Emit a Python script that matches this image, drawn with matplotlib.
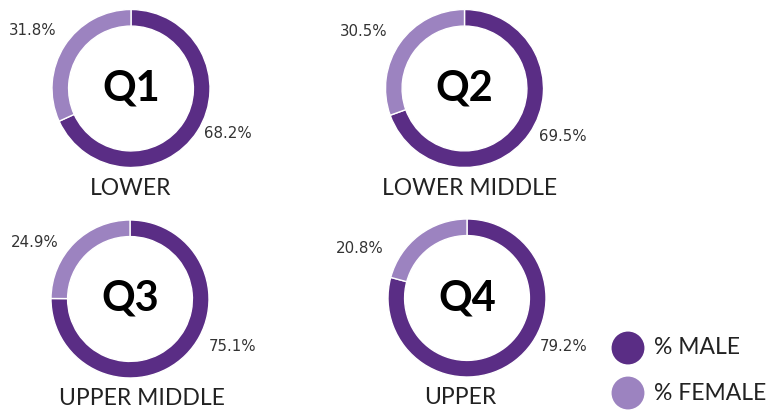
import matplotlib
matplotlib.use("Agg")
import matplotlib.pyplot as plt

# Data
quartiles = ["Q1", "Q2", "Q3", "Q4"]
bands = ["LOWER", "LOWER MIDDLE", "UPPER MIDDLE", "UPPER"]
male = [68.2, 69.5, 75.1, 79.2]
female = [31.8, 30.5, 24.9, 20.8]
legend_labels = ["% MALE", "% FEMALE"]

dark = "#5a2d85"
light = "#9c83c0"
text_col = "#333333"

W, H = 773, 412
fig = plt.figure(figsize=(W / 100, H / 100), dpi=100)
plt.rcParams["font.family"] = ["Lato", "DejaVu Sans"]

# donut centres and radius in pixels (top-left origin)
centres = [(131, 88.5), (464.5, 88.5), (130, 299), (467, 298)]
r = 79
span = 1.5
# label offsets in radius units (male, female), title x shift
male_off = [(1.22, -0.57), (1.24, -0.61), (1.30, -0.60), (1.22, -0.62)]
fem_off = [(-1.24, 0.74), (-1.28, 0.72), (-1.20, 0.72), (-1.36, 0.63)]
title_dx = [0.0, 0.07, 0.15, -0.09]

for i, (cx, cy) in enumerate(centres):
    half = r * span
    ax = fig.add_axes([(cx - half) / W, 1 - (cy + half) / H, 2 * half / W, 2 * half / H])
    ax.pie([male[i], female[i]], colors=[dark, light], startangle=90, counterclock=False,
           radius=1, wedgeprops=dict(width=0.21, edgecolor="white", linewidth=1))
    ax.set_xlim(-span, span)
    ax.set_ylim(-span, span)
    ax.text(0, 0, quartiles[i], ha="center", va="center", fontsize=30,
            fontweight="bold", color="black")
    ax.text(title_dx[i], -1.26, bands[i], ha="center", va="center", fontsize=16.5, color="#222222")
    ax.text(*male_off[i], f"{male[i]:.1f}%", ha="center", va="center",
            fontsize=10.8, color=text_col, family="DejaVu Sans")
    ax.text(*fem_off[i], f"{female[i]:.1f}%", ha="center", va="center",
            fontsize=10.8, color=text_col, family="DejaVu Sans")

# legend
lax = fig.add_axes([0, 0, 1, 1])
lax.set_xlim(0, W)
lax.set_ylim(H, 0)
lax.axis("off")
for j, (lab, col) in enumerate(zip(legend_labels, [dark, light])):
    y = 348 + j * 45
    lax.scatter([628], [y], s=560, color=col, edgecolors="none")
    lax.text(654, y, lab, ha="left", va="center", fontsize=16.5, color="#222222")

fig.savefig("out.png", dpi=100)
